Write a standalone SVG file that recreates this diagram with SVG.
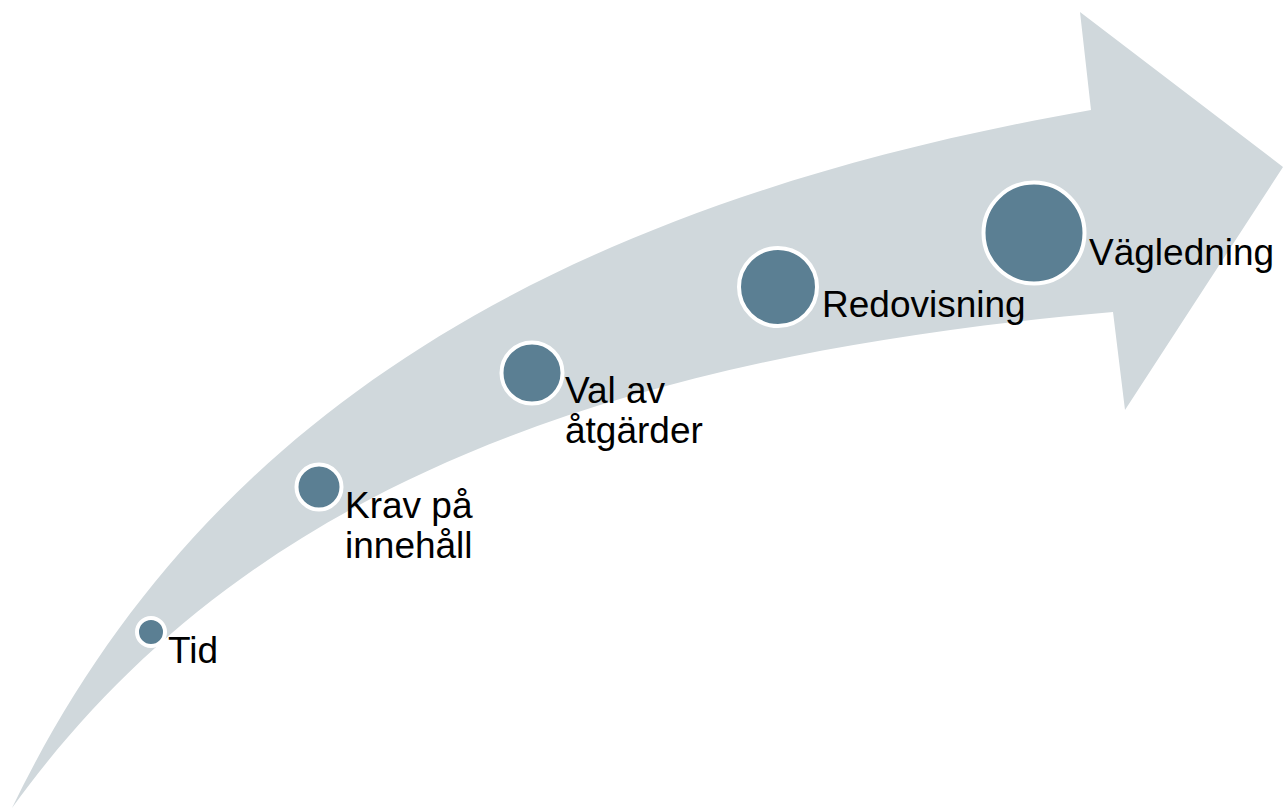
<svg xmlns="http://www.w3.org/2000/svg" width="1283" height="810" viewBox="0 0 1283 810">
<style>
.dot{fill:#5B7F93;stroke:#FFFFFF;stroke-width:4}
.lbl{font-family:"Liberation Sans",Arial,sans-serif;font-size:37px;fill:#000000}
</style>
<rect width="1283" height="810" fill="#FFFFFF"/>
<g id="arrow">
<path d="M12,808 C190,440 520,210 1091,110 L1080,12 L1283,167 L1125,410 L1113,312 C550,360 220,520 12,808 Z" fill="#D0D8DC"/>
</g>
<g id="connectors"></g>
<g id="node-tid">
<circle class="dot" cx="151" cy="632" r="14"/>
<text class="lbl" x="168" y="663">Tid</text>
</g>
<g id="node-krav">
<circle class="dot" cx="319" cy="487" r="22.5"/>
<text class="lbl" x="345" y="518">Krav på<tspan x="345" y="558">innehåll</tspan></text>
</g>
<g id="node-val">
<circle class="dot" cx="532" cy="373" r="30.5"/>
<text class="lbl" x="565" y="403">Val av<tspan x="565" y="443">åtgärder</tspan></text>
</g>
<g id="node-redovisning">
<circle class="dot" cx="778" cy="287" r="39"/>
<text class="lbl" x="822" y="317">Redovisning</text>
</g>
<g id="node-vagledning">
<circle class="dot" cx="1034" cy="233" r="50.5"/>
<text class="lbl" x="1089" y="265">Vägledning</text>
</g>
</svg>
